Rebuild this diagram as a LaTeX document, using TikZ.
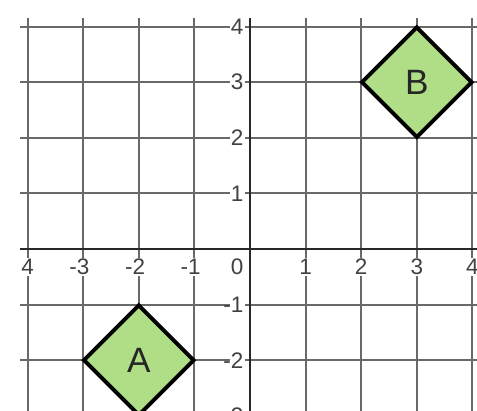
\documentclass[tikz,border=0pt]{standalone}
\usepackage{fontspec}
\setmainfont{Liberation Sans}
\usetikzlibrary{shapes.geometric}
\definecolor{shapegreen}{RGB}{176,222,134}
\definecolor{gridgray}{RGB}{105,105,105}
\definecolor{axisdark}{RGB}{40,40,40}
\definecolor{labelgray}{RGB}{65,65,65}
\begin{document}
\begin{tikzpicture}[x=1cm,y=1cm,
  gridline/.style={draw=gridgray,line width=1pt},
  axisline/.style={draw=axisdark,line width=1.3pt},
  ticklabel/.style={fill=white,inner sep=0.6pt,text=labelgray,font=\fontsize{11.5}{13}\selectfont},
  shapebox/.style={diamond,draw=black,line width=2pt,fill=shapegreen,aspect=1,
    minimum width=2cm,minimum height=2cm,inner sep=0pt,text=black!85,
    font=\fontsize{18}{20}\selectfont}]
\useasboundingbox (-4.496,-2.896) rectangle (4.083,4.478);
\clip (-4.496,-2.896) rectangle (4.083,4.478);
% grid
\foreach \y in {-3,-2,-1,1,2,3,4} \draw[gridline] (-4.14,\y) -- (4.2,\y);
\foreach \x in {-4,-3,-2,-1,1,2,3,4} \draw[gridline] (\x,4.16) -- (\x,-3.2);
% axes
\draw[axisline] (-4.14,0) -- (4.2,0);
\draw[axisline] (0,4.16) -- (0,-3.2);
% x labels
\node[ticklabel] (xm4) at (-4,-0.32) {4};
\foreach \x in {-3,-2,-1} \node[ticklabel] (xm\x) at (\x,-0.32) {\llap{-}\the\numexpr-\x\relax};
\node[ticklabel] (x0) at (-0.23,-0.32) {0};
\foreach \x in {1,2,3,4} \node[ticklabel] (xp\x) at (\x,-0.32) {\x};
% y labels
\foreach \y in {1,2,3,4} \node[ticklabel] (yp\y) at (-0.23,\y) {\y};
\foreach \y in {-1,-2,-3} \node[ticklabel] (ym\y) at (-0.23,\y) {\llap{-}\the\numexpr-\y\relax};
% shapes
\node[shapebox] (B) at (3,3) {B};
\node[shapebox] (A) at (-2,-2) {A};
\end{tikzpicture}
\end{document}
